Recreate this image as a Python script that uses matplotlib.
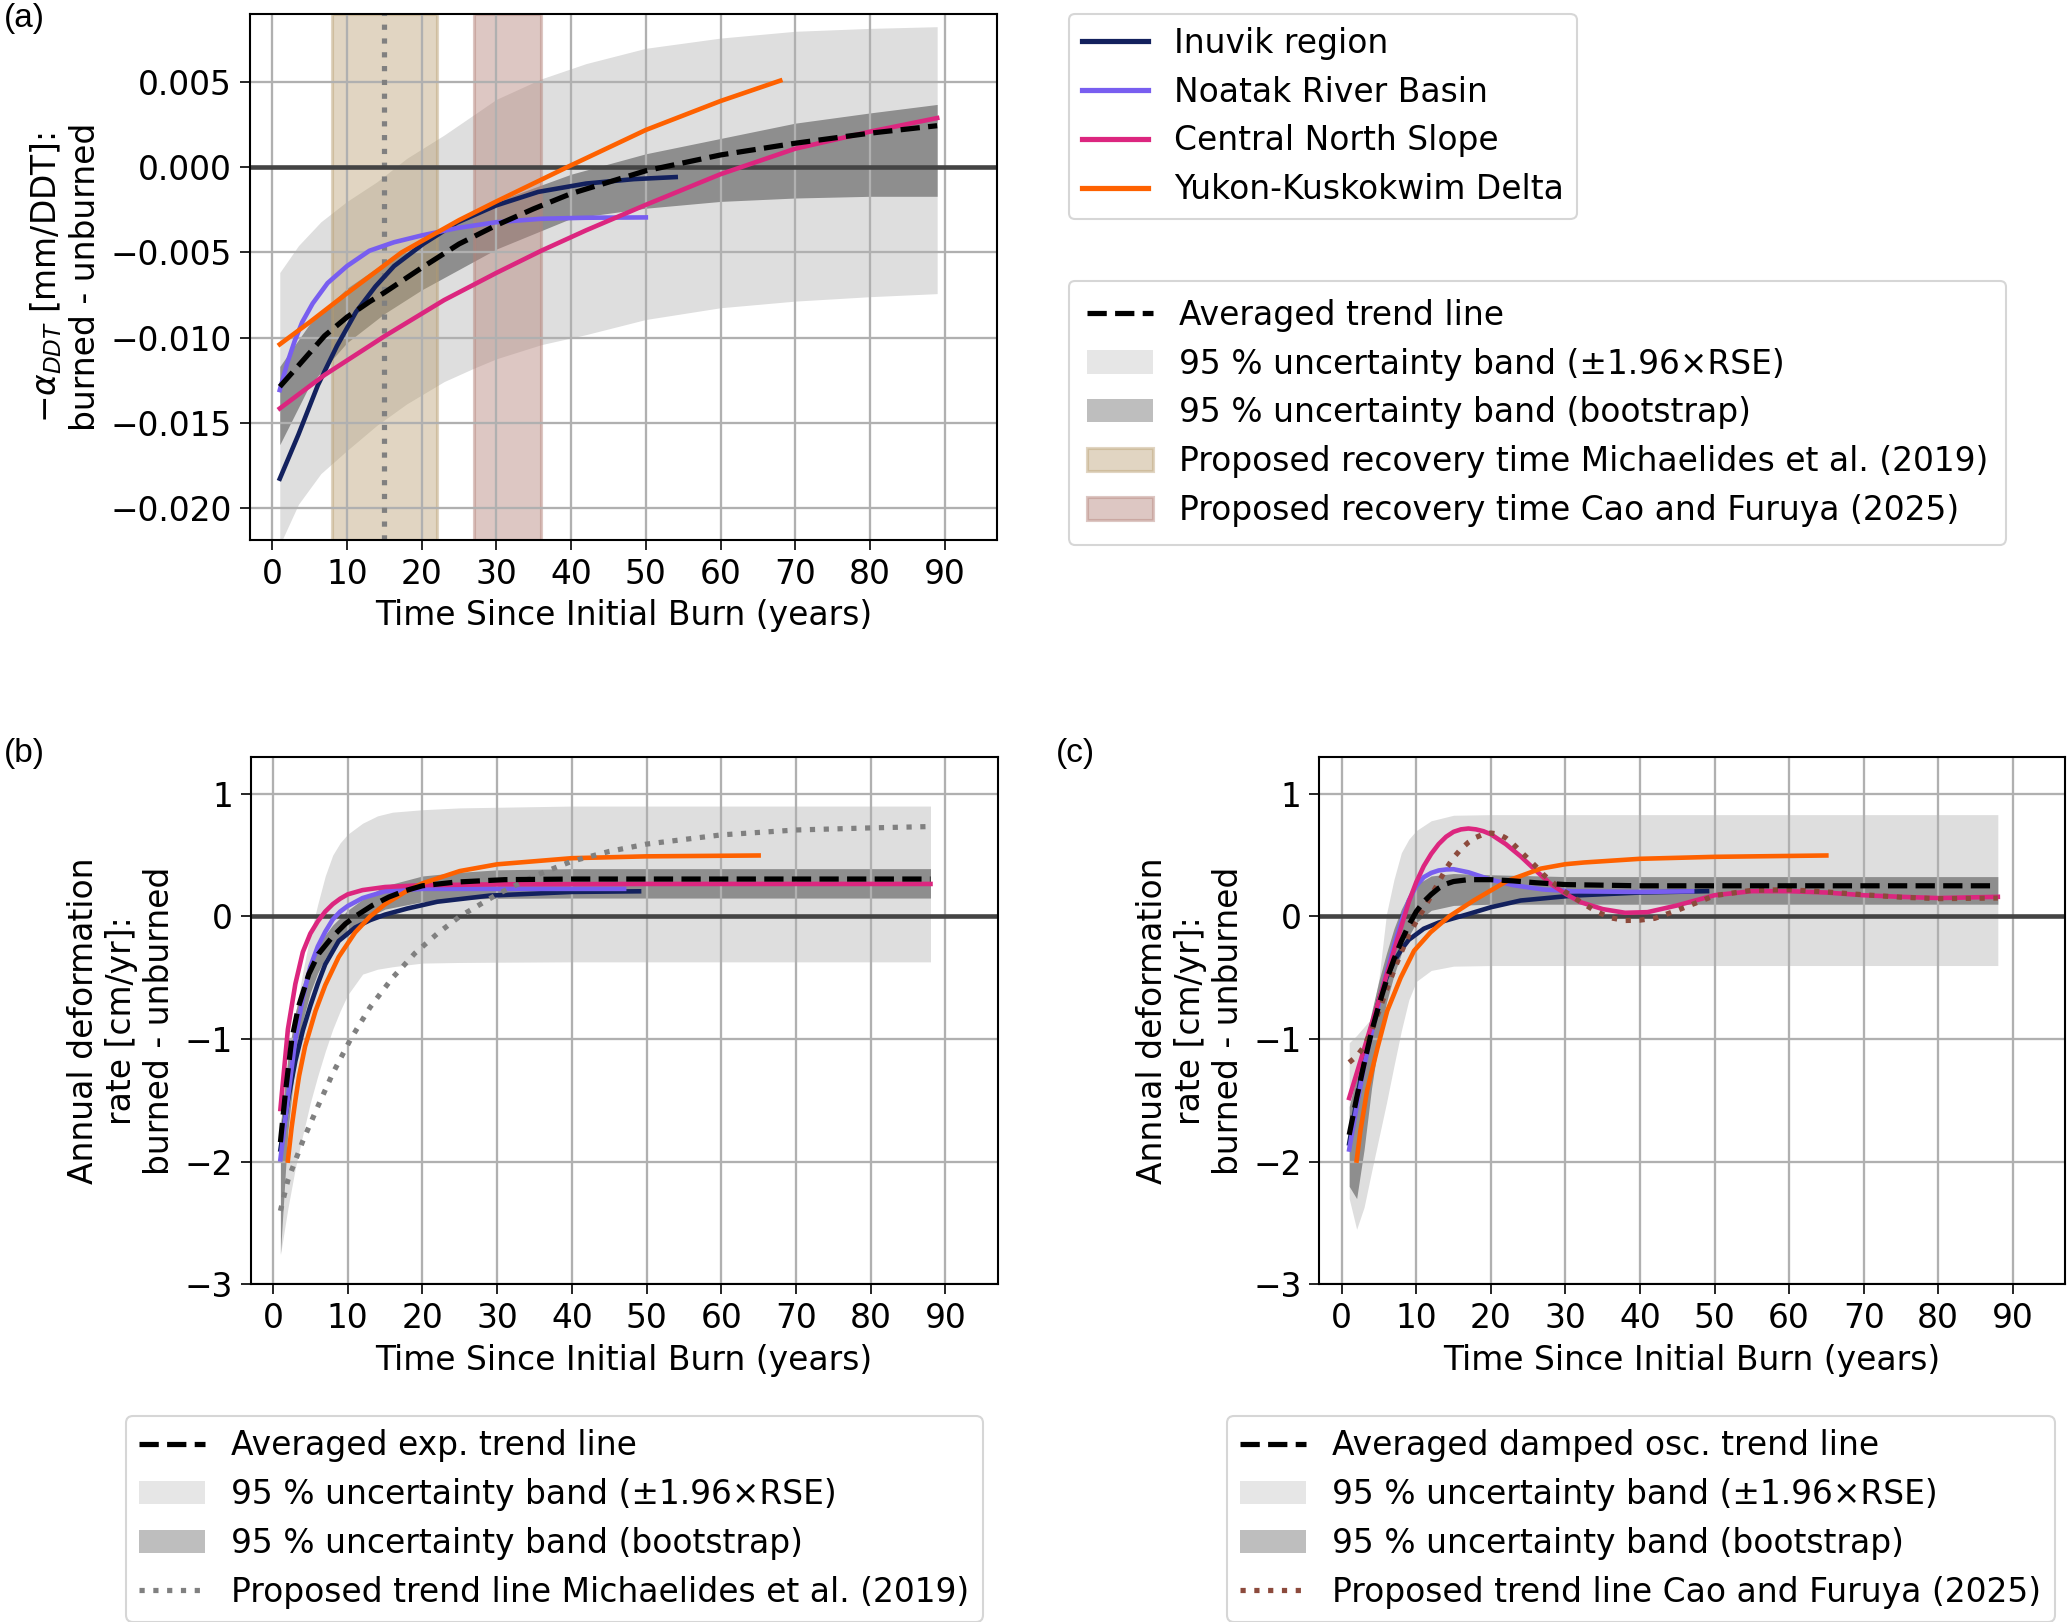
import matplotlib
matplotlib.use("Agg")
import matplotlib.pyplot as plt
from matplotlib.patches import Patch
from matplotlib.lines import Line2D

plt.rcParams['font.family'] = ['DejaVu Sans']
plt.rcParams['font.size'] = 15.8
plt.rcParams['axes.linewidth'] = 1.0

# kolory regionów
C_INUVIK = '#13215e'
C_NOATAK = '#785ef0'
C_CNS = '#dc267f'
C_YKD = '#fe6100'
C_RSE = '#dedede'
C_BOOT = '#8e8e8e'

# ---------------- panel (a) ----------------
x_inuvik_a = [1, 3.5, 6.1, 8.65, 11.2, 13.8, 16.3, 20.2, 24.7, 30, 35.6, 42, 48.4, 54]
y_inuvik_a = [-0.0183, -0.0157, -0.0128, -0.0105, -0.0085, -0.0070, -0.0058, -0.0045,
              -0.00325, -0.00223, -0.00144, -0.00095, -0.00069, -0.00057]
x_noatak_a = [1, 2, 3, 4, 5.4, 7.4, 10, 13, 16.3, 20, 24.7, 30, 36, 42, 50]
y_noatak_a = [-0.01309, -0.0115, -0.0102, -0.0091, -0.0080, -0.0068, -0.0058, -0.0049, -0.0044,
              -0.0040, -0.00357, -0.00322, -0.00302, -0.00296, -0.00294]
x_cns_a = [1, 7, 15, 23, 30, 36, 42, 50, 60, 70, 80, 89]
y_cns_a = [-0.01417, -0.0122, -0.00993, -0.0078, -0.0062, -0.0049, -0.0037, -0.0022, -0.0004,
           0.0011, 0.0021, 0.0029]
x_ykd_a = [1, 5, 10, 17.3, 25, 30, 39.4, 50, 60, 68]
y_ykd_a = [-0.0104, -0.0091, -0.0074, -0.0050, -0.0031, -0.0020, 0.0, 0.0022, 0.0039, 0.0051]

x_trend_a = [1, 3, 5, 7, 10, 13, 15, 20, 25, 30, 35, 40, 50, 60, 70, 80, 89]
y_trend_a = [-0.01289, -0.0119, -0.0109, -0.0099, -0.0088, -0.0079, -0.00736, -0.0059, -0.0045,
             -0.0034, -0.00243, -0.00154, -0.0002, 0.00073, 0.00142, 0.00201, 0.00245]

x_rse_a = [1, 3.5, 6.5, 10, 14, 18, 23, 27, 30, 36, 42, 50, 60, 70, 80, 89]
rse_hi_a = [-0.00618, -0.0046, -0.0032, -0.0020, -0.00085, 0.00053, 0.0019, 0.0031, 0.0040,
            0.0052, 0.0061, 0.0070, 0.0076, 0.0080, 0.00817, 0.00827]
rse_lo_a = [-0.0222, -0.0198, -0.0180, -0.01664, -0.01516, -0.0139, -0.01259, -0.0118, -0.01125,
            -0.01042, -0.00983, -0.00894, -0.00825, -0.00786, -0.0076, -0.00742]

x_boot_a = [1, 5, 10, 15, 20, 30, 40, 50, 60, 70, 80, 89]
boot_hi_a = [-0.0117, -0.0092, -0.0071, -0.0056, -0.0043, -0.0020, -0.0004, 0.0008, 0.0017,
             0.0026, 0.0032, 0.0037]
boot_lo_a = [-0.0163, -0.0128, -0.0103, -0.0086, -0.0072, -0.0048, -0.0030, -0.0024, -0.0020,
             -0.0018, -0.0017, -0.0017]

recovery_michaelides = (8, 22)
recovery_cao = (27, 36)
michaelides_line = 15

# ---------------- panel (b) ----------------
x_inuvik_b = [1, 2, 3, 4, 5, 6, 7, 8.8, 11, 13, 15, 18, 22, 29, 40, 49]
y_inuvik_b = [-1.9, -1.5, -1.18, -0.93, -0.73, -0.55, -0.39, -0.2, -0.09, -0.03, 0.015, 0.065,
              0.12, 0.17, 0.2, 0.205]
x_noatak_b = [1, 2, 3, 4, 5, 6, 7, 8, 9, 10, 12, 15, 20, 30, 47]
y_noatak_b = [-1.98, -1.48, -1.0, -0.66, -0.41, -0.245, -0.125, -0.025, 0.04, 0.085, 0.15,
              0.205, 0.225, 0.225, 0.225]
x_cns_b = [1, 2, 3, 4, 5, 6, 7, 8, 9, 10, 12, 15, 20, 30, 50, 88]
y_cns_b = [-1.57, -0.92, -0.55, -0.29, -0.14, -0.04, 0.04, 0.1, 0.145, 0.18, 0.215, 0.24, 0.255,
           0.262, 0.265, 0.265]
x_ykd_b = [2, 2.5, 3, 3.5, 4.3, 5.7, 7, 8.8, 11, 13, 15, 17.7, 20, 25, 30, 40, 50, 65]
y_ykd_b = [-1.99, -1.72, -1.5, -1.3, -1.06, -0.77, -0.56, -0.33, -0.13, 0.0, 0.1, 0.2, 0.27,
           0.37, 0.425, 0.475, 0.49, 0.497]

x_trend_b = [1, 1.7, 2.5, 3.4, 4.8, 6.1, 7.9, 9.7, 11, 13.3, 15.5, 17.7, 20, 24.4, 31, 40, 88]
y_trend_b = [-1.84, -1.42, -1.01, -0.74, -0.47, -0.305, -0.17, -0.06, 0.0, 0.09, 0.158, 0.21,
             0.25, 0.28, 0.30, 0.305, 0.305]

x_michaelides_b = [1, 2, 4, 6, 8, 10.4, 13, 16, 19, 22, 25, 30, 35, 40, 45, 50, 60, 70, 80, 88]
y_michaelides_b = [-2.4, -2.15, -1.83, -1.55, -1.28, -1.0, -0.74, -0.5, -0.3, -0.14, 0.0, 0.18,
                   0.33, 0.45, 0.53, 0.59, 0.665, 0.705, 0.722, 0.733]

x_rse_b = [1, 2, 3, 4, 5, 6, 7, 8, 9, 10, 12, 14, 16, 20, 25, 30, 40, 88]
rse_hi_b = [-1.9, -1.25, -0.8, -0.45, -0.15, 0.1, 0.33, 0.5, 0.6, 0.67, 0.76, 0.82, 0.85, 0.87,
            0.885, 0.89, 0.9, 0.9]
rse_lo_b = [-2.76, -2.38, -2.05, -1.78, -1.52, -1.3, -1.1, -0.92, -0.77, -0.64, -0.47, -0.43,
            -0.41, -0.38, -0.375, -0.373, -0.37, -0.37]

x_boot_b = [1, 2, 3, 4, 5, 6, 7, 8, 10, 12, 15, 20, 25, 30, 40, 88]
boot_hi_b = [-1.7, -1.15, -0.78, -0.55, -0.38, -0.25, -0.15, -0.07, 0.05, 0.14, 0.25, 0.33,
             0.36, 0.38, 0.39, 0.39]
boot_lo_b = [-2.75, -1.75, -1.18, -0.85, -0.62, -0.46, -0.34, -0.25, -0.12, -0.03, 0.06, 0.12,
             0.14, 0.148, 0.15, 0.15]

# ---------------- panel (c) ----------------
x_inuvik_c = [1, 2, 3, 4, 5, 6, 7, 8, 9, 11, 13, 15, 17, 20, 24, 31, 40, 49]
y_inuvik_c = [-1.85, -1.5, -1.17, -0.9, -0.68, -0.5, -0.37, -0.27, -0.19, -0.1, -0.05, -0.015,
              0.02, 0.075, 0.13, 0.17, 0.195, 0.206]
x_noatak_c = [1, 2, 3, 4, 5, 6, 7, 8, 9, 10, 11, 12, 13, 14, 15, 17, 20, 23, 27, 31, 40, 47]
y_noatak_c = [-1.9, -1.55, -1.22, -0.95, -0.7, -0.46, -0.24, -0.04, 0.13, 0.25, 0.32, 0.355,
              0.375, 0.383, 0.385, 0.36, 0.30, 0.255, 0.22, 0.205, 0.20, 0.205]
x_cns_c = [1, 2, 3, 4, 5, 6, 7, 8, 9, 10, 11, 12, 13, 14, 15, 16, 17, 18, 19, 20, 22, 24, 26, 28,
           30, 32, 35, 38, 41, 45, 50, 55, 60, 65, 70, 75, 80, 88]
y_cns_c = [-1.48, -1.28, -1.08, -0.88, -0.68, -0.48, -0.28, -0.08, 0.12, 0.28, 0.41, 0.51, 0.59,
           0.65, 0.69, 0.71, 0.717, 0.71, 0.695, 0.67, 0.59, 0.49, 0.376, 0.267, 0.185, 0.117,
           0.06, 0.03, 0.035, 0.09, 0.173, 0.206, 0.206, 0.195, 0.173, 0.16, 0.15, 0.16]
x_ykd_c = [2, 2.5, 3.4, 4.8, 6.1, 7.9, 9.7, 11.9, 14.4, 17.7, 22.2, 26.7, 30, 32.5, 40, 50, 65]
y_ykd_c = [-1.99, -1.75, -1.42, -1.07, -0.77, -0.5, -0.28, -0.13, 0.0, 0.13, 0.29, 0.39, 0.426,
           0.44, 0.47, 0.486, 0.497]

x_trend_c = [1, 2, 3, 4, 5, 6, 7, 8, 9, 10, 11, 12, 13, 14, 15, 17, 20, 23, 26, 30, 40, 88]
y_trend_c = [-1.78, -1.48, -1.2, -0.94, -0.72, -0.52, -0.35, -0.2, -0.07, 0.04, 0.12, 0.18, 0.23,
             0.265, 0.285, 0.30, 0.30, 0.29, 0.275, 0.26, 0.25, 0.25]

x_cao_c = [1, 2, 3, 4, 5, 6, 7, 8, 9, 10, 11, 12, 13, 14, 15, 16, 17, 18, 19, 20, 21, 22, 23, 24,
           25, 26, 27, 28, 30, 32, 34, 36, 38, 40, 42, 45, 50, 55, 60, 65, 70, 75, 80, 88]
y_cao_c = [-1.19, -1.14, -1.06, -0.93, -0.77, -0.6, -0.44, -0.29, -0.15, -0.04, 0.06, 0.17, 0.28,
           0.39, 0.48, 0.55, 0.605, 0.645, 0.67, 0.68, 0.672, 0.64, 0.59, 0.53, 0.47, 0.41, 0.345,
           0.29, 0.2, 0.12, 0.045, -0.01, -0.033, -0.03, -0.015, 0.05, 0.17, 0.213, 0.218, 0.2,
           0.177, 0.157, 0.145, 0.15]

x_rse_c = [1, 2, 3, 4, 5, 6, 7, 8, 9, 10, 12, 15, 20, 30, 88]
rse_hi_c = [-1.03, -0.97, -0.9, -0.83, -0.5, 0.02, 0.3, 0.52, 0.63, 0.7, 0.78, 0.825, 0.83, 0.83,
            0.83]
rse_lo_c = [-2.3, -2.55, -2.37, -2.08, -1.8, -1.52, -1.22, -0.93, -0.68, -0.53, -0.44, -0.405,
            -0.40, -0.40, -0.40]

x_boot_c = [1, 2, 3, 4, 5, 6, 7, 8, 9, 10, 12, 15, 20, 30, 88]
boot_hi_c = [-1.55, -1.3, -1.05, -0.78, -0.52, -0.3, -0.1, 0.06, 0.18, 0.26, 0.33, 0.35, 0.34,
             0.325, 0.325]
boot_lo_c = [-2.2, -2.3, -1.9, -1.4, -1.0, -0.7, -0.48, -0.3, -0.16, -0.05, 0.05, 0.09, 0.10,
             0.10, 0.10]

year_ticks = list(range(0, 100, 10))
xlabel = 'Time Since Initial Burn (years)'
label_rse = '95 % uncertainty band (±1.96×RSE)'
label_boot = '95 % uncertainty band (bootstrap)'


def style_axes(ax):
    ax.set_xlim(-3, 97)
    ax.set_xticks(year_ticks)
    ax.grid(True, color='#b0b0b0', lw=1.1)
    ax.axhline(0, color='#444444', lw=2.2, zorder=1.8)
    ax.tick_params(length=5)
    ax.set_xlabel(xlabel)


def draw_regions(ax, data):
    for (xs, ys), color in zip(data, [C_INUVIK, C_NOATAK, C_CNS, C_YKD]):
        ax.plot(xs, ys, color=color, lw=2.2, zorder=2)


fig = plt.figure(figsize=(2067 / 150, 1622 / 150), dpi=150)
ax_a = fig.add_axes([0.1209, 0.6671, 0.3614, 0.3241])
ax_b = fig.add_axes([0.1212, 0.2081, 0.3615, 0.3252])
ax_c = fig.add_axes([0.6383, 0.2081, 0.3607, 0.3252])

# (a)
ax_a.fill_between(x_rse_a, rse_lo_a, rse_hi_a, color=C_RSE, lw=0, zorder=1)
ax_a.fill_between(x_boot_a, boot_lo_a, boot_hi_a, color=C_BOOT, lw=0, zorder=1.1)
span_m = ax_a.axvspan(*recovery_michaelides, facecolor='#b89d6e', edgecolor='#b89d6e',
                      alpha=0.42, lw=1.5, zorder=1.2)
span_c = ax_a.axvspan(*recovery_cao, facecolor='#b5837a', edgecolor='#b5837a',
                      alpha=0.45, lw=1.5, zorder=1.2)
ax_a.axvline(michaelides_line, color='gray', ls=':', lw=2.5, zorder=1.7)
draw_regions(ax_a, [(x_inuvik_a, y_inuvik_a), (x_noatak_a, y_noatak_a),
                    (x_cns_a, y_cns_a), (x_ykd_a, y_ykd_a)])
trend_a, = ax_a.plot(x_trend_a, y_trend_a, 'k--', lw=2.5, zorder=3)
style_axes(ax_a)
ax_a.set_ylim(-0.0219, 0.0090)
ax_a.set_yticks([-0.020, -0.015, -0.010, -0.005, 0.0, 0.005])
ax_a.set_ylabel('$-\\alpha_{DDT}$ [mm/DDT]:\nburned - unburned')

# (b)
ax_b.fill_between(x_rse_b, rse_lo_b, rse_hi_b, color=C_RSE, lw=0, zorder=1)
ax_b.fill_between(x_boot_b, boot_lo_b, boot_hi_b, color=C_BOOT, lw=0, zorder=1.1)
draw_regions(ax_b, [(x_inuvik_b, y_inuvik_b), (x_noatak_b, y_noatak_b),
                    (x_cns_b, y_cns_b), (x_ykd_b, y_ykd_b)])
mich_b, = ax_b.plot(x_michaelides_b, y_michaelides_b, color='gray', ls=':', lw=2.5, zorder=2.5)
trend_b, = ax_b.plot(x_trend_b, y_trend_b, 'k--', lw=2.5, zorder=3)
style_axes(ax_b)
ax_b.set_ylim(-3, 1.3)
ax_b.set_yticks([-3, -2, -1, 0, 1])
ax_b.set_ylabel('Annual deformation\nrate [cm/yr]:\nburned - unburned')

# (c)
ax_c.fill_between(x_rse_c, rse_lo_c, rse_hi_c, color=C_RSE, lw=0, zorder=1)
ax_c.fill_between(x_boot_c, boot_lo_c, boot_hi_c, color=C_BOOT, lw=0, zorder=1.1)
draw_regions(ax_c, [(x_inuvik_c, y_inuvik_c), (x_noatak_c, y_noatak_c),
                    (x_cns_c, y_cns_c), (x_ykd_c, y_ykd_c)])
cao_c, = ax_c.plot(x_cao_c, y_cao_c, color='#8c4a3c', ls=':', lw=2.5, zorder=2.5)
trend_c, = ax_c.plot(x_trend_c, y_trend_c, 'k--', lw=2.5, zorder=3)
style_axes(ax_c)
ax_c.set_ylim(-3, 1.3)
ax_c.set_yticks([-3, -2, -1, 0, 1])
ax_c.set_ylabel('Annual deformation\nrate [cm/yr]:\nburned - unburned')

# legendy
rse_patch = Patch(facecolor='#e6e6e6', edgecolor='none')
boot_patch = Patch(facecolor='#bebebe', edgecolor='none')
leg_kw = dict(loc='upper left', bbox_transform=fig.transFigure, borderaxespad=0,
              labelspacing=0.48, handlelength=2.0)

region_handles = [Line2D([], [], color=c, lw=2.5) for c in [C_INUVIK, C_NOATAK, C_CNS, C_YKD]]
fig.legend(region_handles, ['Inuvik region', 'Noatak River Basin', 'Central North Slope',
                            'Yukon-Kuskokwim Delta'], bbox_to_anchor=(0.517, 0.9916), **leg_kw)
fig.legend([trend_a, rse_patch, boot_patch, span_m, span_c],
           ['Averaged trend line', label_rse, label_boot,
            'Proposed recovery time Michaelides et al. (2019)',
            'Proposed recovery time Cao and Furuya (2025)'],
           bbox_to_anchor=(0.517, 0.827), borderpad=0.55, **leg_kw)
fig.legend([trend_b, rse_patch, boot_patch, mich_b],
           ['Averaged exp. trend line', label_rse, label_boot,
            'Proposed trend line Michaelides et al. (2019)'],
           bbox_to_anchor=(0.061, 0.127), **leg_kw)
fig.legend([trend_c, rse_patch, boot_patch, cao_c],
           ['Averaged damped osc. trend line', label_rse, label_boot,
            'Proposed trend line Cao and Furuya (2025)'],
           bbox_to_anchor=(0.5936, 0.127), **leg_kw)

# oznaczenia paneli
for xpos, ypos, txt in [(0.002, 0.998, '(a)'), (0.002, 0.545, '(b)'), (0.511, 0.545, '(c)')]:
    fig.text(xpos, ypos, txt, ha='left', va='top', fontsize=16,
             family=['Liberation Sans', 'DejaVu Sans'])

fig.savefig('out.png', dpi=150)
